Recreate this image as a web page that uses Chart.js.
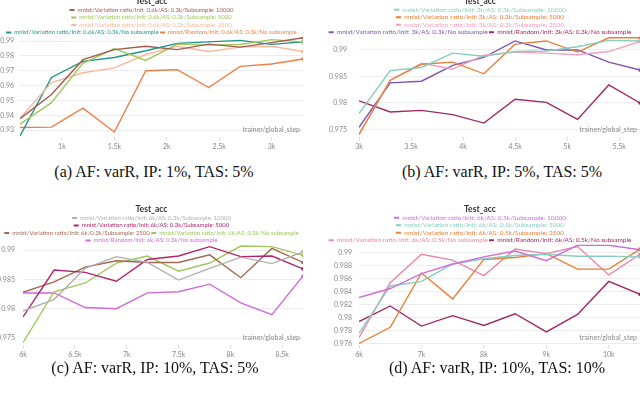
<!DOCTYPE html>
<html>
<head>
<meta charset="utf-8">
<script src="https://cdn.jsdelivr.net/npm/chart.js@4/dist/chart.umd.min.js"></script>
<style>
  body { margin: 0; width: 640px; height: 397px; overflow: hidden; background: #fff; position: relative; }
  canvas { position: absolute; }
  .cap { position: absolute; font-family: "Liberation Serif", "DejaVu Serif", serif; font-size: 16px; color: #111;
         white-space: nowrap; transform: translateX(-50%); }
</style>
</head>
<body>
<canvas id="cA" width="310" height="161" style="left:0;top:-6px"></canvas>
<canvas id="cB" width="342" height="161" style="left:320px;top:-6px"></canvas>
<canvas id="cC" width="310" height="161" style="left:0;top:202px"></canvas>
<canvas id="cD" width="342" height="161" style="left:320px;top:202px"></canvas>
<div class="cap" style="left:154px;top:163px">(a) AF: varR, IP: 1%, TAS: 5%</div>
<div class="cap" style="left:502px;top:163px">(b) AF: varR, IP: 5%, TAS: 5%</div>
<div class="cap" style="left:155px;top:359px">(c) AF: varR, IP: 10%, TAS: 5%</div>
<div class="cap" style="left:497px;top:359px">(d) AF: varR, IP: 10%, TAS: 10%</div>
<script>
// (a) init 0.6k
const stepsA = [600, 900, 1200, 1500, 1800, 2100, 2400, 2700, 3000, 3300];
const a10000 = [0.9377, 0.954, 0.9775, 0.9843, 0.9866, 0.9843, 0.988, 0.986, 0.989, 0.9923];
const a5000 = [0.934, 0.9485, 0.975, 0.985, 0.977, 0.988, 0.9873, 0.9877, 0.991, 0.9895];
const a2500 = [0.938, 0.962, 0.9687, 0.972, 0.981, 0.9866, 0.983, 0.986, 0.9866, 0.983];
const aNoSub = [0.926, 0.9655, 0.9764, 0.979, 0.9835, 0.9885, 0.9895, 0.9905, 0.9878, 0.9895];
const aRandom = [0.9317, 0.932, 0.9448, 0.9287, 0.970, 0.9707, 0.9587, 0.973, 0.9746, 0.978];
const namesA = [
  'mnist/Variation ratio/Init: 0.6k/AS: 0.3k/Subsample: 10000',
  'mnist/Variation ratio/Init: 0.6k/AS: 0.3k/Subsample: 5000',
  'mnist/Variation ratio/Init: 0.6k/AS: 0.3k/Subsample: 2500',
  'mnist/Variation ratio/Init: 0.6k/AS: 0.3k/No subsample',
  'mnist/Random/Init: 0.6k/AS: 0.3k/No subsample'
];
const colorsA = ['#a65a50', '#a0c75c', '#f5b99e', '#229487', '#ec7f48'];
const xTicksA = [1000, 1500, 2000, 2500, 3000];
const xLabelsA = ['1k', '1.5k', '2k', '2.5k', '3k'];
const yTicksA = [0.93, 0.94, 0.95, 0.96, 0.97, 0.98, 0.99];

// (b) init 3k
const stepsB = [3000, 3300, 3600, 3900, 4200, 4500, 4800, 5100, 5400, 5700];
const b10000 = [0.978, 0.9861, 0.9867, 0.9894, 0.9888, 0.9897, 0.9898, 0.9906, 0.9918, 0.9917];
const b5000 = [0.974, 0.9843, 0.9873, 0.9877, 0.9855, 0.9911, 0.9917, 0.9896, 0.9923, 0.9923];
const b2500 = [0.9741, 0.9843, 0.9875, 0.9864, 0.989, 0.9896, 0.9894, 0.9891, 0.9897, 0.9916];
const bNoSub = [0.9754, 0.9838, 0.9841, 0.9871, 0.9886, 0.9917, 0.99, 0.99, 0.9877, 0.9862];
const bRandom = [0.9804, 0.9783, 0.9786, 0.9778, 0.9762, 0.9807, 0.9801, 0.9769, 0.9834, 0.98];
const namesB = [
  'mnist/Variation ratio/Init: 3k/AS: 0.3k/Subsample: 10000',
  'mnist/Variation ratio/Init: 3k/AS: 0.3k/Subsample: 5000',
  'mnist/Variation ratio/Init: 3k/AS: 0.3k/Subsample: 2500',
  'mnist/Variation ratio/Init: 3k/AS: 0.3k/No subsample',
  'mnist/Random/Init: 3k/AS: 0.3k/No subsample'
];
const colorsB = ['#87cebf', '#e97f38', '#f2a0bd', '#7d54b2', '#a12864'];
const xTicksB = [3000, 3500, 4000, 4500, 5000, 5500];
const xLabelsB = ['3k', '3.5k', '4k', '4.5k', '5k', '5.5k'];
const yTicksB = [0.975, 0.98, 0.985, 0.99];

// (c) init 6k, AS 0.3k
const stepsC = [6000, 6300, 6600, 6900, 7200, 7500, 7800, 8100, 8400, 8700];
const c10000 = [0.9796, 0.9816, 0.9869, 0.9889, 0.9879, 0.9849, 0.9869, 0.9888, 0.9877, 0.9897];
const c5000 = [0.9786, 0.9866, 0.9862, 0.9847, 0.9884, 0.989, 0.9906, 0.9889, 0.989, 0.9868];
const c2500 = [0.9828, 0.9846, 0.9871, 0.9882, 0.9879, 0.9879, 0.9892, 0.9853, 0.9903, 0.9879];
const cNoSub = [0.9742, 0.9829, 0.9844, 0.9878, 0.989, 0.9864, 0.9878, 0.9907, 0.9906, 0.9891];
const cRandom = [0.9827, 0.9827, 0.9802, 0.98, 0.9827, 0.9829, 0.9842, 0.981, 0.979, 0.9856];
const namesC = [
  'mnist/Variation ratio/Init: 6k/AS: 0.3k/Subsample: 10000',
  'mnist/Variation ratio/Init: 6k/AS: 0.3k/Subsample: 5000',
  'mnist/Variation ratio/Init: 6k/0.3k/Subsample: 2500',
  'mnist/Variation ratio/Init: 6k/AS: 0.3k/No subsample',
  'mnist/Random/Init: 6k/AS: 0.3k/No subsample'
];
const colorsC = ['#b0b0b0', '#b0246a', '#a46750', '#a0c75c', '#d06ad8'];
const xTicksC = [6000, 6500, 7000, 7500, 8000, 8500];
const xLabelsC = ['6k', '6.5k', '7k', '7.5k', '8k', '8.5k'];
const yTicksC = [0.975, 0.98, 0.985, 0.99];

// (d) init 6k, AS 0.5k
const stepsD = [6000, 6500, 7000, 7500, 8000, 8500, 9000, 9500, 10000, 10500];
const d10000 = [0.9831, 0.9845, 0.9868, 0.9883, 0.9894, 0.9903, 0.9888, 0.9912, 0.9912, 0.9905];
const d5000 = [0.9776, 0.9849, 0.9856, 0.9883, 0.9891, 0.9896, 0.9898, 0.9895, 0.9895, 0.9894];
const d2500 = [0.976, 0.9785, 0.9869, 0.9829, 0.989, 0.9893, 0.9899, 0.9875, 0.9875, 0.9906];
const dNoSub = [0.9769, 0.9854, 0.9898, 0.9889, 0.9865, 0.9906, 0.9899, 0.991, 0.9866, 0.9898];
const dRandom = [0.9794, 0.9818, 0.9787, 0.9803, 0.9788, 0.9806, 0.9778, 0.9805, 0.9856, 0.9836];
const namesD = [
  'mnist/Variation ratio/Init: 6k/AS: 0.5k/Subsample: 10000',
  'mnist/Variation ratio/Init: 6k/AS: 0.5k/Subsample: 5000',
  'mnist/Variation ratio/Init: 6k/AS: 0.5k/Subsample: 2500',
  'mnist/Variation ratio/Init: 6k/AS: 0.5k/No subsample',
  'mnist/Random/Init: 6k/AS: 0.5k/No subsample'
];
const colorsD = ['#cc6fdc', '#87cebf', '#e97f38', '#ec85a8', '#a12864'];
const xTicksD = [6000, 7000, 8000, 9000, 10000];
const xLabelsD = ['6k', '7k', '8k', '9k', '10k'];
const yTicksD = [0.976, 0.978, 0.98, 0.982, 0.984, 0.986, 0.988, 0.99];

const FONT = 'Lato';

// "trainer/global_step" sits inside the plot, bottom right
const stepLabel = {
  id: 'stepLabel',
  afterDraw(chart) {
    const { ctx, chartArea } = chart;
    ctx.save();
    ctx.font = '7px ' + FONT;
    ctx.fillStyle = '#8a8a8a';
    ctx.textAlign = 'right';
    ctx.textBaseline = 'bottom';
    ctx.fillText('trainer/global_step', chartArea.right - 3, chartArea.bottom - 3);
    ctx.restore();
  }
};

// legend has a fixed +10 in its height; trim it so the plot sits right under it
const tightLegend = {
  id: 'tightLegend',
  beforeUpdate(chart) {
    const lg = chart.legend;
    if (!lg || lg._tight) return;
    lg._tight = true;
    const fit = lg.fit;
    lg.fit = function () {
      fit.call(this);
      const l = this.options.labels;
      this.height = this.lineWidths.length * (l.font.size + l.padding) + l.padding;
    };
  }
};

function build(id, steps, series, names, colors, o) {
  new Chart(document.getElementById(id), {
    type: 'line',
    data: {
      datasets: series.map((s, i) => ({
        label: names[i],
        data: s.map((v, j) => ({ x: steps[j], y: v })),
        borderColor: colors[i],
        backgroundColor: colors[i],
        borderWidth: 1.4,
        tension: 0,
        pointRadius: c => (c.dataIndex === s.length - 1 ? 1.8 : 0),
        pointBorderWidth: 0
      }))
    },
    options: {
      responsive: false,
      animation: false,
      layout: { padding: o.pad },
      plugins: {
        title: {
          display: true, text: 'Test_acc', color: '#333',
          font: { family: FONT, size: 8.5, weight: 'bold', lineHeight: 1 },
          padding: { top: 0, bottom: 0 }
        },
        legend: {
          labels: {
            boxWidth: 5, boxHeight: 2, padding: o.legPad,
            font: { family: FONT, size: o.legSize },
            generateLabels: chart => chart.data.datasets.map((d, i) => ({
              text: d.label, fillStyle: d.borderColor, strokeStyle: d.borderColor,
              lineWidth: 0, fontColor: d.borderColor, datasetIndex: i
            }))
          }
        },
        tooltip: { enabled: false }
      },
      scales: {
        x: {
          type: 'linear',
          min: steps[0], max: steps[steps.length - 1],
          afterBuildTicks: s => { s.ticks = o.xTicks.map(v => ({ value: v })); },
          border: { display: false },
          grid: { drawOnChartArea: false, tickLength: 4, color: '#dddddd' },
          ticks: {
            color: '#888', font: { family: FONT, size: 7 }, padding: 2,
            maxRotation: 0, autoSkip: false,
            callback: (v, i) => o.xLabels[i]
          }
        },
        y: {
          min: o.yMin, max: o.yMax,
          afterBuildTicks: s => { s.ticks = o.yTicks.map(v => ({ value: v })); },
          afterFit: s => { s.width = o.yWidth; },
          border: { display: false },
          grid: { color: '#ececec', drawTicks: false },
          ticks: {
            color: '#888', font: { family: FONT, size: 7 }, padding: o.yPad,
            callback: v => String(v)
          }
        }
      }
    },
    plugins: [tightLegend, stepLabel]
  });
}

build('cA', stepsA, [a10000, a5000, a2500, aNoSub, aRandom], namesA, colorsA, {
  xTicks: xTicksA, xLabels: xLabelsA, yTicks: yTicksA,
  yMin: 0.9256, yMax: 0.9928, yWidth: 20, yPad: 6, legSize: 6, legPad: 1.5,
  pad: { left: 0, right: 7, top: 3, bottom: 2 }
});
build('cB', stepsB, [b10000, b5000, b2500, bNoSub, bRandom], namesB, colorsB, {
  xTicks: xTicksB, xLabels: xLabelsB, yTicks: yTicksB,
  yMin: 0.97365, yMax: 0.99254, yWidth: 39, yPad: 12, legSize: 6.5, legPad: 1,
  pad: { left: 0, right: 22, top: 3, bottom: 2 }
});
build('cC', stepsC, [c10000, c5000, c2500, cNoSub, cRandom], namesC, colorsC, {
  xTicks: xTicksC, xLabels: xLabelsC, yTicks: yTicksC,
  yMin: 0.97388, yMax: 0.99088, yWidth: 23, yPad: 8, legSize: 6, legPad: 1.5,
  pad: { left: 0, right: 7, top: 3, bottom: 2 }
});
build('cD', stepsD, [d10000, d5000, d2500, dNoSub, dRandom], namesD, colorsD, {
  xTicks: xTicksD, xLabels: xLabelsD, yTicks: yTicksD,
  yMin: 0.97583, yMax: 0.99131, yWidth: 39, yPad: 7, legSize: 6.5, legPad: 1,
  pad: { left: 0, right: 22, top: 3, bottom: 2 }
});
</script>
</body>
</html>
